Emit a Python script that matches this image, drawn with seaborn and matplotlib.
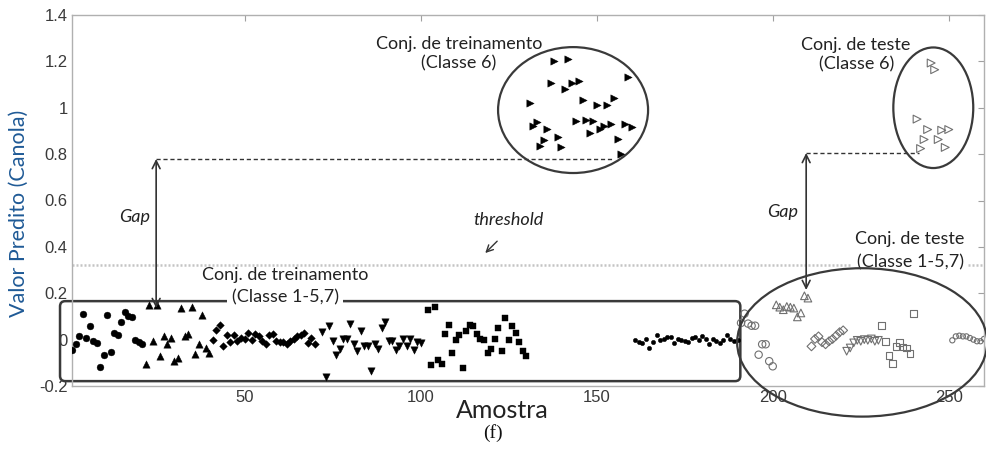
import numpy as np
import pandas as pd
import matplotlib
matplotlib.use("Agg")
import matplotlib.pyplot as plt
from matplotlib.patches import Ellipse, FancyBboxPatch
from matplotlib.ticker import FuncFormatter, FixedLocator
import seaborn as sns

# ---- predicted values (Canola) per class, training set (filled markers) ----
train_start = [1, 22, 41, 72, 102, 131, 161]
train_c1 = [-0.046, -0.02, 0.014, 0.11, 0.007, 0.06, -0.007, -0.014, -0.12, -0.065, 0.107,
            -0.053, 0.029, 0.019, 0.076, 0.119, 0.10, 0.098, 0.0, -0.011, -0.02]
train_c2 = [-0.106, 0.15, -0.004, 0.15, -0.07, 0.014, -0.017, 0.007, -0.093, -0.079, 0.136,
            0.014, 0.026, 0.14, -0.06, -0.02, 0.107, -0.036, -0.057]
train_c3 = [-0.003, 0.043, 0.065, -0.029, 0.019, -0.011, 0.019, -0.007, 0.007, 0.003, 0.029,
            -0.003, 0.026, 0.014, -0.007, -0.017, 0.022, 0.026, -0.007, -0.011, -0.011, -0.02,
            -0.007, 0.003, 0.014, 0.022, 0.029, -0.014, 0.007, -0.017]
train_c4 = [0.032, -0.16, 0.06, -0.007, -0.065, -0.04, 0.003, 0.003, 0.069, -0.02, -0.05, 0.036,
            -0.029, -0.026, -0.136, -0.017, -0.04, 0.05, 0.074, -0.007, -0.007, -0.043, -0.026,
            0.003, -0.029, 0.003, -0.043, -0.011, -0.014]
train_c5 = [0.126, -0.108, 0.14, -0.086, -0.103, 0.026, 0.065, -0.057, -0.003, 0.022, -0.122,
            0.036, 0.065, 0.06, 0.024, 0.003, -0.003, -0.057, -0.04, 0.003, 0.05, -0.05, 0.093,
            0.0, 0.057, 0.029, -0.011, -0.05, -0.072]
train_c6 = [1.022, 0.922, 0.939, 0.836, 0.863, 0.908, 1.107, 1.201, 0.872, 0.831, 1.08, 1.211,
            1.107, 0.943, 1.115, 1.035, 0.946, 0.893, 0.943, 1.011, 0.908, 0.92, 1.014, 0.932,
            1.042, 0.865, 0.80, 0.932, 1.132, 0.915]
train_c7 = [-0.003, -0.011, -0.014, 0.003, -0.036, -0.011, 0.022, 0.0, 0.003, 0.011, 0.011,
            -0.014, 0.003, -0.003, -0.007, -0.011, 0.007, 0.011, 0.0, 0.014, 0.003, -0.017,
            0.003, -0.007, -0.014, 0.0, 0.022, 0.003, -0.007, 0.0]

# ---- test set (hollow markers) ----
test_start = [191, 201, 211, 221, 231, 241, 251]
test_c1 = [0.072, 0.112, 0.069, 0.06, 0.06, -0.065, -0.02, -0.02, -0.093, -0.115]
test_c2 = [0.15, 0.14, 0.129, 0.143, 0.14, 0.136, 0.098, 0.115, 0.189, 0.179]
test_c3 = [-0.029, 0.003, 0.014, -0.011, -0.02, -0.007, 0.003, 0.017, 0.032, 0.04]
test_c4 = [-0.05, -0.036, -0.014, -0.003, -0.007, 0.0, -0.003, 0.003, -0.007, -0.003]
test_c5 = [0.06, -0.007, -0.069, -0.103, -0.029, -0.014, -0.032, -0.036, -0.06, 0.112]
test_c6 = [0.951, 0.824, 0.863, 0.906, 1.193, 1.164, 0.863, 0.903, 0.829, 0.906]
test_c7 = [-0.003, 0.014, 0.017, 0.014, 0.014, 0.007, 0.0, -0.007, -0.007, 0.003]

classes = ["1", "2", "3", "4", "5", "6", "7"]
train_vals = [train_c1, train_c2, train_c3, train_c4, train_c5, train_c6, train_c7]
test_vals = [test_c1, test_c2, test_c3, test_c4, test_c5, test_c6, test_c7]

x_ticks = [50, 100, 150, 200, 250]
y_ticks = [-0.2, 0, 0.2, 0.4, 0.6, 0.8, 1.0, 1.2, 1.4]

rows = []
for conj, starts, vals in (("treinamento", train_start, train_vals),
                           ("teste", test_start, test_vals)):
    for cl, st, v in zip(classes, starts, vals):
        for i, y in enumerate(v):
            rows.append({"Amostra": st + i, "Valor": y, "Classe": cl, "Conjunto": conj})
df = pd.DataFrame(rows)

markers = {"1": "o", "2": "^", "3": "D", "4": "v", "5": "s", "6": ">", "7": "o"}
size_train = {"1": 24, "2": 28, "3": 15, "4": 28, "5": 20, "6": 28, "7": 10}
size_test = {"1": 28, "2": 30, "3": 20, "4": 30, "5": 24, "6": 32, "7": 14}

sns.set_style("white")
plt.rcParams["font.family"] = ["Lato", "DejaVu Sans"]
plt.rcParams["axes.unicode_minus"] = False

fig = plt.figure(figsize=(9.87, 4.57), dpi=100)
ax = fig.add_axes([72 / 987, 1 - 386 / 457, (984 - 72) / 987, (386 - 15) / 457])

for cl in classes:
    d = df[(df.Conjunto == "treinamento") & (df.Classe == cl)]
    sns.scatterplot(data=d, x="Amostra", y="Valor", marker=markers[cl], s=size_train[cl],
                    color="black", edgecolor="black", linewidth=0.3, ax=ax,
                    legend=False, zorder=3)
    d = df[(df.Conjunto == "teste") & (df.Classe == cl)]
    sns.scatterplot(data=d, x="Amostra", y="Valor", marker=markers[cl], s=size_test[cl],
                    color="#666666", facecolor="none", edgecolor="#707070", linewidth=0.8,
                    ax=ax, legend=False, zorder=3)

ax.set_xlim(1, 260)
ax.set_ylim(-0.2, 1.4)
ax.xaxis.set_major_locator(FixedLocator(x_ticks))
ax.yaxis.set_major_locator(FixedLocator(y_ticks))
ax.yaxis.set_major_formatter(FuncFormatter(lambda v, p: f"{v:g}"))
ax.tick_params(direction="in", length=4, width=0.8, color="#a0a0a0", labelcolor="#3a3a3a",
               top=True, right=True, labelsize=12, pad=3)
for lab in ax.get_xticklabels():
    lab.set_fontfamily(["Liberation Sans Narrow", "Liberation Sans"])
for lab in ax.get_yticklabels():
    lab.set_fontfamily(["Liberation Sans", "DejaVu Sans"])
for sp in ax.spines.values():
    sp.set_color("#b0b0b0")
    sp.set_linewidth(1.0)
ax.set_xlabel("")
ax.set_ylabel("")

edge = "#3a3a3a"

# decision threshold
ax.axhline(0.322, color="#c4c4c4", lw=1.8, ls=(0, (0.8, 0.8)), zorder=1)

# training box (classes 1-5,7)
box = FancyBboxPatch((-2.4, -0.179), 193.2, 0.345,
                     boxstyle="round,pad=0,rounding_size=1.5", mutation_aspect=0.0152,
                     fill=False, ec=edge, lw=1.8, clip_on=False, zorder=2)
ax.add_patch(box)

# ellipses around groups
ax.add_patch(Ellipse((143.3, 0.99), 42.6, 0.543, fill=False, ec=edge, lw=1.6,
                     clip_on=False, zorder=5))
ax.add_patch(Ellipse((245.6, 1.0), 22.7, 0.52, fill=False, ec=edge, lw=1.6,
                     clip_on=False, zorder=5))
ax.add_patch(Ellipse((225.4, -0.012), 71.0, 0.64, fill=False, ec=edge, lw=1.6,
                     clip_on=False, zorder=5))

# gap markers
ax.plot([24.9, 154.4], [0.779, 0.779], ls=(0, (3, 2)), color="#333333", lw=1.0, zorder=2)
ax.plot([209.5, 241.6], [0.805, 0.805], ls=(0, (3, 2)), color="#333333", lw=1.0, zorder=2)
arrow = dict(arrowstyle="<->", color="#333333", lw=1.2, shrinkA=0, shrinkB=0,
             mutation_scale=14)
ax.annotate("", xy=(24.9, 0.136), xytext=(24.9, 0.779), arrowprops=arrow)
ax.annotate("", xy=(209.5, 0.214), xytext=(209.5, 0.805), arrowprops=arrow)

txt = dict(color="#222222", fontsize=13, ha="center", va="center")
ax.text(18.9, 0.528, "Gap", style="italic", **txt)
ax.text(202.7, 0.55, "Gap", style="italic", **txt)
ax.text(124.9, 0.516, "threshold", style="italic", **txt)
ax.annotate("", xy=(117.8, 0.365), xytext=(122.3, 0.433),
            arrowprops=dict(arrowstyle="->", color="#333333", lw=1.0, mutation_scale=12))

white = dict(boxstyle="square,pad=0.25", fc="white", ec="none")
ax.text(110.9, 1.232, "Conj. de treinamento\n(Classe 6)", linespacing=1.25, **txt)
ax.text(223.7, 1.227, "Conj. de teste\n(Classe 6)", linespacing=1.25, **txt)
ax.text(61.5, 0.278, "Conj. de treinamento", **txt)
ax.text(61.5, 0.184, "(Classe 1-5,7)", bbox=white, zorder=4, **txt)
ax.text(239.0, 0.436, "Conj. de teste", **txt)
ax.text(239.0, 0.335, "(Classe 1-5,7)", bbox=white, zorder=4, **txt)

# axis titles
fig.text(0.019, 1 - 213 / 457, "Valor Predito (Canola)", rotation=90, ha="center",
         va="center", fontsize=15.5, color="#1f5a96")
fig.text(502 / 987, 1 - 411 / 457, "Amostra", ha="center", va="center", fontsize=18,
         color="#222222")
fig.text(493 / 987, 1 - 433 / 457, "(f)", ha="center", va="center", fontsize=14,
         family=["Liberation Serif", "DejaVu Serif"], color="#111111")

fig.savefig("out.png", dpi=100)
